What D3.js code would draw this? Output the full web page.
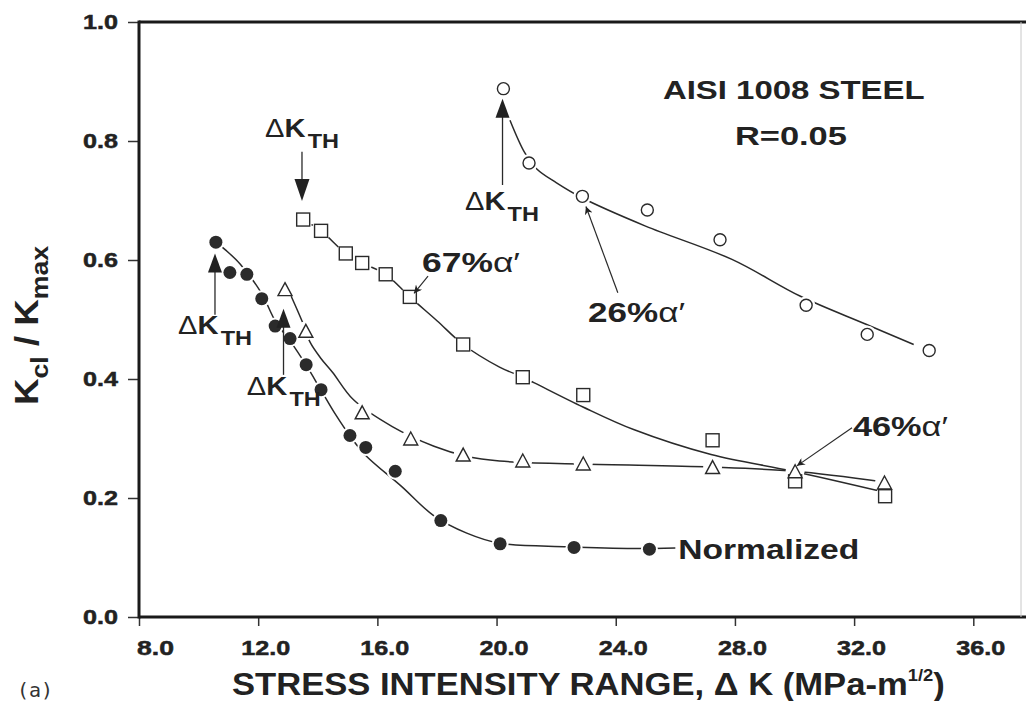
<!DOCTYPE html>
<html>
<head>
<meta charset="utf-8">
<script src="https://cdn.jsdelivr.net/npm/d3@7"></script>
<style>
  body { margin: 0; background: #fff; }
  svg text { font-family: "Liberation Sans", Arial, sans-serif; fill: #222; }
</style>
</head>
<body>
<div id="chart"></div>
<script>
//Ejes
const xTicks = [8, 12, 16, 20, 24, 28, 32, 36];
const yTicks = [0, 0.2, 0.4, 0.6, 0.8, 1.0];

//26% alpha' (circulos abiertos)
const a26K = [20.23, 21.09, 22.88, 25.06, 27.50, 30.39, 32.44, 34.52];
const a26R = [0.888, 0.763, 0.707, 0.684, 0.634, 0.524, 0.475, 0.448];
const a26FitK = [20.45, 20.95, 21.35, 22.0, 22.85, 25.0, 27.9, 30.2, 32.4, 34.0];
const a26FitR = [0.835, 0.78, 0.753, 0.73, 0.705, 0.657, 0.601, 0.539, 0.492, 0.458];

//67% alpha' (cuadrados)
const a67K = [13.51, 14.11, 14.94, 15.49, 16.28, 17.09, 18.88, 20.88, 22.91, 27.25, 30.02, 33.04];
const a67R = [0.668, 0.649, 0.611, 0.595, 0.576, 0.538, 0.458, 0.403, 0.373, 0.297, 0.228, 0.203];
const a67FitK = [13.51, 14.11, 14.94, 15.49, 16.28, 17.09, 18.0, 18.88, 20.1, 20.88, 21.25, 22.9, 24.6, 27.2, 29.95, 33.0];
const a67FitR = [0.668, 0.649, 0.611, 0.595, 0.576, 0.538, 0.498, 0.458, 0.42, 0.403, 0.394, 0.353, 0.315, 0.273, 0.245, 0.21];

//46% alpha' (triangulos abiertos)
const a46K = [12.90, 13.60, 15.49, 17.12, 18.88, 20.88, 22.91, 27.25, 30.02, 33.02];
const a46R = [0.551, 0.481, 0.344, 0.300, 0.273, 0.263, 0.258, 0.252, 0.245, 0.226];
const a46FitK = [13.1, 13.5, 13.75, 14.1, 14.5, 15.2, 16.5, 17.9, 19.0, 20.1, 22.9, 27.2, 30.0, 33.0];
const a46FitR = [0.54, 0.494, 0.461, 0.435, 0.411, 0.365, 0.32, 0.287, 0.27, 0.262, 0.257, 0.252, 0.245, 0.227];

//Normalizado (circulos llenos)
const normK = [10.58, 11.05, 11.62, 12.12, 12.57, 13.07, 13.61, 14.11, 15.08, 15.61, 16.60, 18.13, 20.12, 22.60, 25.13];
const normR = [0.630, 0.579, 0.576, 0.535, 0.489, 0.468, 0.424, 0.382, 0.305, 0.285, 0.245, 0.162, 0.123, 0.117, 0.114];
const normFitK = [10.58, 10.9, 11.4, 12.1, 12.6, 13.1, 13.6, 14.1, 14.6, 15.1, 15.6, 16.8, 17.9, 19.0, 20.1, 22.4, 24.6, 26.0];
const normFitR = [0.63, 0.617, 0.593, 0.545, 0.495, 0.462, 0.424, 0.382, 0.34, 0.303, 0.272, 0.22, 0.17, 0.141, 0.124, 0.118, 0.115, 0.116];

//Umbrales (triangulos llenos con linea)
const thMarkK = [10.55, 12.85, 20.2];
const thMarkR = [0.595, 0.502, 0.855];
const thStemR = [0.508, 0.407, 0.726];
//Flecha del umbral de los cuadrados
const sqArrowK = 13.47;
const sqArrowFromR = 0.782;
const sqArrowToR = 0.699;

//Etiquetas Delta K_TH
const thLabelK = [9.31, 11.62, 12.23, 18.94];
const thLabelR = [0.475, 0.373, 0.806, 0.684];

//Etiquetas de porcentaje
const pctText = ['67%', '26%', '46%'];
const pctK = [17.5, 23.07, 31.96];
const pctR = [0.58, 0.496, 0.304];
const pctWidth = [98, 97, 95];
const pctFromK = [17.7, 24.07, 31.93];
const pctFromR = [0.573, 0.545, 0.318];
const pctToK = [17.23, 23.0, 30.08];
const pctToR = [0.544, 0.69, 0.254];

const svg = d3.select('#chart').append('svg')
    .attr('width', 1026)
    .attr('height', 701);

svg.append('rect').attr('width', 1026).attr('height', 701).attr('fill', '#fff');

let x = d3.scaleLinear().domain([8, 36]).range([139, 973.3]);
let y = d3.scaleLinear().domain([0, 1]).range([617, 22]);

//Estirar texto a un ancho
function fitText(g, x0, y0, w, anchor) {
    let bw = g.node().getBBox().width;
    let dx = anchor === 'middle' ? -w / 2 : 0;
    g.attr('transform', 'translate(' + (x0 + dx) + ',' + y0 + ') scale(' + (w / bw) + ',1)');
}

let defs = svg.append('defs');
defs.append('marker')
    .attr('id', 'head')
    .attr('viewBox', '0 0 10 10')
    .attr('refX', 10).attr('refY', 5)
    .attr('markerWidth', 13).attr('markerHeight', 8)
    .attr('markerUnits', 'userSpaceOnUse')
    .attr('orient', 'auto')
    .append('path').attr('d', 'M0,0L10,5L0,10L3,5Z').attr('fill', '#222');

///// EJES
let yAxis = svg.append('g')
    .attr('transform', 'translate(' + x(8) + ',0)')
    .call(d3.axisLeft(y).tickValues(yTicks).tickFormat(d3.format('.1f')).tickSize(11).tickPadding(10));
yAxis.select('.domain').remove();
yAxis.selectAll('.tick line').attr('stroke', '#333').attr('stroke-width', 1.5);
yAxis.selectAll('.tick text')
    .attr('font-size', 21).attr('font-weight', 'bold').attr('fill', '#222')
    .attr('stroke', '#222').attr('stroke-width', 0.5)
    .attr('font-family', '"Liberation Sans", Arial, sans-serif')
    .attr('textLength', 35).attr('lengthAdjust', 'spacingAndGlyphs');

let xAxis = svg.append('g')
    .attr('transform', 'translate(0,' + y(0) + ')')
    .call(d3.axisBottom(x).tickValues(xTicks).tickFormat(d3.format('.1f')).tickSize(9).tickPadding(14));
xAxis.select('.domain').remove();
xAxis.selectAll('.tick line').attr('stroke', '#333').attr('stroke-width', 1.5);
xAxis.selectAll('.tick text')
    .attr('font-size', 21).attr('font-weight', 'bold').attr('fill', '#222')
    .attr('stroke', '#222').attr('stroke-width', 0.5)
    .attr('font-family', '"Liberation Sans", Arial, sans-serif')
    .attr('dx', function(d) { return d === 8 ? 16 : 7; })
    .attr('textLength', function(d) { return d < 10 ? 37 : 49; })
    .attr('lengthAdjust', 'spacingAndGlyphs');

//Marco
svg.append('line').attr('x1', x(8)).attr('x2', 1026).attr('y1', y(1)).attr('y2', y(1))
    .attr('stroke', '#1a1a1a').attr('stroke-width', 3);
svg.append('line').attr('x1', x(8)).attr('x2', 1026).attr('y1', y(0)).attr('y2', y(0))
    .attr('stroke', '#1a1a1a').attr('stroke-width', 3);
svg.append('line').attr('x1', x(8)).attr('x2', x(8)).attr('y1', y(1) - 1.5).attr('y2', y(0) + 1.5)
    .attr('stroke', '#1a1a1a').attr('stroke-width', 3);
svg.append('line').attr('x1', 1021).attr('x2', 1021).attr('y1', y(1)).attr('y2', y(0))
    .attr('stroke', '#c8c8c8').attr('stroke-width', 1);

///// CURVAS
let line = d3.line()
    .x(function(d) { return x(d[0]); })
    .y(function(d) { return y(d[1]); })
    .curve(d3.curveCatmullRom.alpha(0.5));

[[a26FitK, a26FitR], [a67FitK, a67FitR], [a46FitK, a46FitR], [normFitK, normFitR]].forEach(function(s) {
    svg.append('path')
        .datum(d3.zip(s[0], s[1]))
        .attr('d', line)
        .attr('fill', 'none')
        .attr('stroke', '#2a2a2a')
        .attr('stroke-width', 1.5);
});

///// MARCADORES
let a26 = d3.zip(a26K, a26R),
    a67 = d3.zip(a67K, a67R),
    a46 = d3.zip(a46K, a46R),
    norm = d3.zip(normK, normR);

//Huecos blancos alrededor de los puntos
let halos = svg.append('g');
[[a26, 9], [a67, 10], [a46, 9.5], [norm, 8.5]].forEach(function(s) {
    halos.selectAll(null).data(s[0]).enter().append('circle')
        .attr('cx', function(d) { return x(d[0]); })
        .attr('cy', function(d) { return y(d[1]); })
        .attr('r', s[1])
        .attr('fill', '#fff');
});

function triPath(w, h) {
    return 'M0,' + (-h / 2) + 'L' + (w / 2) + ',' + (h / 2) + 'L' + (-w / 2) + ',' + (h / 2) + 'Z';
}

svg.append('g').selectAll('circle').data(a26).enter().append('circle')
    .attr('cx', function(d) { return x(d[0]); })
    .attr('cy', function(d) { return y(d[1]); })
    .attr('r', 6)
    .attr('fill', '#fff').attr('stroke', '#2a2a2a').attr('stroke-width', 1.4);

svg.append('g').selectAll('rect').data(a67).enter().append('rect')
    .attr('x', function(d) { return x(d[0]) - 6.5; })
    .attr('y', function(d) { return y(d[1]) - 6.5; })
    .attr('width', 13).attr('height', 13)
    .attr('fill', '#fff').attr('stroke', '#2a2a2a').attr('stroke-width', 1.4);

svg.append('g').selectAll('path').data(a46).enter().append('path')
    .attr('transform', function(d) { return 'translate(' + x(d[0]) + ',' + y(d[1]) + ')'; })
    .attr('d', triPath(14, 13))
    .attr('fill', '#fff').attr('stroke', '#2a2a2a').attr('stroke-width', 1.4);

svg.append('g').selectAll('circle').data(norm).enter().append('circle')
    .attr('cx', function(d) { return x(d[0]); })
    .attr('cy', function(d) { return y(d[1]); })
    .attr('r', 6.5)
    .attr('fill', '#2b2b2b');

///// UMBRALES
let th = d3.zip(thMarkK, thMarkR, thStemR);
svg.append('g').selectAll('line').data(th).enter().append('line')
    .attr('x1', function(d) { return x(d[0]); })
    .attr('x2', function(d) { return x(d[0]); })
    .attr('y1', function(d) { return y(d[1]) + 8; })
    .attr('y2', function(d) { return y(d[2]); })
    .attr('stroke', '#2a2a2a').attr('stroke-width', 1.3);
svg.append('g').selectAll('path').data(th).enter().append('path')
    .attr('transform', function(d) { return 'translate(' + x(d[0]) + ',' + y(d[1]) + ')'; })
    .attr('d', triPath(14, 19))
    .attr('fill', '#222');

//Flecha hacia abajo (cuadrados)
svg.append('line')
    .attr('x1', x(sqArrowK)).attr('x2', x(sqArrowK))
    .attr('y1', y(sqArrowFromR)).attr('y2', y(sqArrowToR) - 20)
    .attr('stroke', '#2a2a2a').attr('stroke-width', 1.3);
svg.append('path')
    .attr('transform', 'translate(' + x(sqArrowK) + ',' + (y(sqArrowToR) - 11) + ') rotate(180)')
    .attr('d', triPath(15, 22))
    .attr('fill', '#222');

//Etiquetas Delta K TH
d3.zip(thLabelK, thLabelR).forEach(function(d) {
    let g = svg.append('g');
    let t = g.append('text').attr('font-size', 26);
    t.append('tspan').attr('font-weight', 'normal').text('Δ');
    t.append('tspan').attr('font-weight', 'bold').text('K');
    t.append('tspan').attr('font-weight', 'bold').attr('font-size', 21).attr('dx', 2).attr('dy', 11).text('TH');
    fitText(g, x(d[0]), y(d[1]), 74);
});

///// ANOTACIONES
pctText.forEach(function(txt, i) {
    svg.append('line')
        .attr('x1', x(pctFromK[i])).attr('y1', y(pctFromR[i]))
        .attr('x2', x(pctToK[i])).attr('y2', y(pctToR[i]))
        .attr('stroke', '#2a2a2a').attr('stroke-width', 1.2)
        .attr('marker-end', 'url(#head)');
    let g = svg.append('g');
    let t = g.append('text').attr('font-size', 27);
    t.append('tspan').attr('font-weight', 'bold').text(txt);
    t.append('tspan').attr('font-weight', 'normal').text('α′');
    fitText(g, x(pctK[i]), y(pctR[i]), pctWidth[i]);
});

let gn = svg.append('g');
gn.append('text').attr('font-size', 27).attr('font-weight', 'bold').text('Normalized');
fitText(gn, x(26.1), y(0.098), 181);

let ga = svg.append('g');
ga.append('text').attr('font-size', 26).attr('font-weight', 'bold').text('AISI 1008 STEEL');
fitText(ga, x(29.98), y(0.87), 262, 'middle');

let gr = svg.append('g');
gr.append('text').attr('font-size', 26).attr('font-weight', 'bold').text('R=0.05');
fitText(gr, x(29.88), y(0.793), 112, 'middle');

///// TITULOS
let gx = svg.append('g');
let xt = gx.append('text').attr('font-size', 32).attr('font-weight', 'bold');
xt.append('tspan').text('STRESS INTENSITY RANGE, Δ K (MPa-m');
xt.append('tspan').attr('font-size', 17).attr('dy', -14).text('1/2');
xt.append('tspan').attr('dy', 14).text(')');
fitText(gx, 232, 695, 713);

let gy = svg.append('g');
let yt = gy.append('text').attr('font-size', 33).attr('font-weight', 'bold');
yt.append('tspan').text('K');
yt.append('tspan').attr('font-size', 24).attr('dy', 10).text('cl');
yt.append('tspan').attr('dy', -10).text(' / K');
yt.append('tspan').attr('font-size', 24).attr('dy', 10).text('max');
let yw = gy.node().getBBox().width;
gy.attr('transform', 'translate(38,405) rotate(-90) scale(' + (160 / yw) + ',1)');

svg.append('text')
    .attr('x', 17).attr('y', 697)
    .attr('font-size', 20)
    .style('font-family', '"DejaVu Sans Mono", monospace')
    .style('fill', '#333')
    .text('(a)');
</script>
</body>
</html>
